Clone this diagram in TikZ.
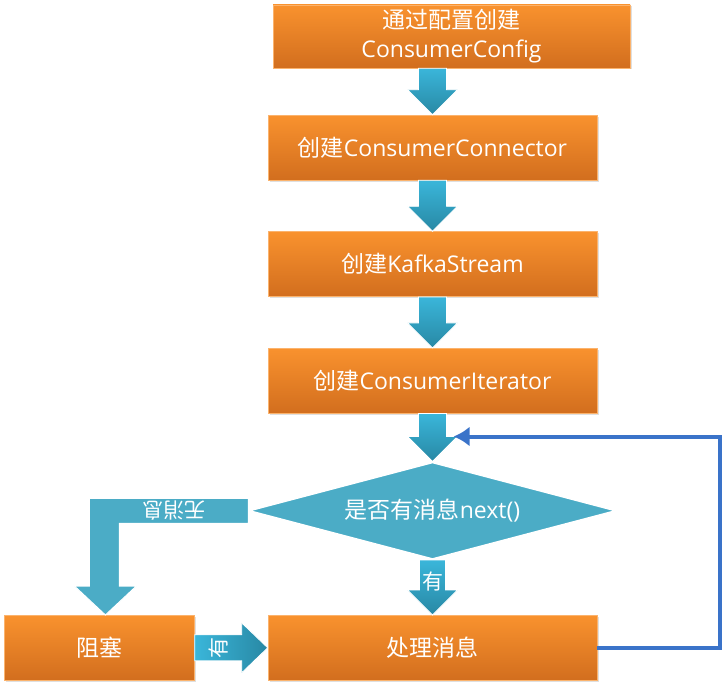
\documentclass[tikz,border=0pt]{standalone}
\usepackage{fontspec}
\setmainfont{Open Sans}
\newfontfamily\cjk{Noto Sans CJK SC}
\usetikzlibrary{arrows.meta,positioning,shapes.geometric,calc,shadows}

\definecolor{boxtop}{HTML}{F9922E}
\definecolor{boxbot}{HTML}{D26E1E}
\definecolor{flowtop}{HTML}{3AB6DA}
\definecolor{flowbot}{HTML}{2888A4}
\definecolor{aqua}{HTML}{4BACC6}
\definecolor{loopblue}{HTML}{3A73C9}

\begin{document}
\begin{tikzpicture}[x=1pt, y=1pt,
  font=\fontsize{23}{29}\selectfont,
  box/.style={rectangle, draw=boxtop!70!white, line width=0.6pt, top color=boxtop, bottom color=boxbot, text=white, align=center, minimum width=329pt, minimum height=65pt, inner sep=0pt, drop shadow={opacity=0.25, shadow xshift=1.5pt, shadow yshift=-1.5pt}},
  flowv/.style={draw=white, line width=0.8pt, top color=flowtop, bottom color=flowbot},
  flowh/.style={draw=white, line width=0.8pt, left color=flowtop, right color=flowbot},
  decision/.style={diamond, aspect=3.8, draw=white, line width=1.5pt, fill=aqua, text=white, minimum width=367pt, minimum height=97pt, inner sep=0pt},
  label/.style={text=white, inner sep=0pt, font=\cjk\fontsize{21}{21}\selectfont},
  back/.style={draw=loopblue, line width=4pt, -{Latex[length=16pt, width=20pt]}}]

\useasboundingbox (0,0) rectangle (723,-685);

\node[box, minimum width=357pt, minimum height=63pt] (cfg) at (451.5,-36.5) {{\cjk 通过配置创建}\\ConsumerConfig};
\node[box] (conn) at (432.5,-147.5) {{\cjk 创建}ConsumerConnector};
\node[box, below=51pt of conn] (stream) {{\cjk 创建}KafkaStream};
\node[box, below=51pt of stream] (iter) {{\cjk 创建}ConsumerIterator};
\node[decision, below=48pt of iter] (check) {{\cjk 是否有消息}next()};
\node[box, below=55pt of check] (proc) {\cjk 处理消息};
\node[box, minimum width=190pt, left=73pt of proc] (block) {\cjk 阻塞};

% Arrows
\foreach \up/\dn in {cfg/conn, conn/stream, stream/iter, iter/check}
  \shade[flowv] ($(\up.south -| \dn.north)+(-14,0)$) -- ($(\up.south -| \dn.north)+(14,0)$) -- ($(\dn.north)+(14,25)$) -- ($(\dn.north)+(25,25)$) -- (\dn.north) -- ($(\dn.north)+(-25,25)$) -- ($(\dn.north)+(-14,25)$) -- cycle;

\shade[flowv] ($(check.south -| proc.north)+(-13,0)$) -- ($(check.south -| proc.north)+(13,0)$) -- ($(proc.north)+(13,25)$) -- ($(proc.north)+(25,25)$) -- (proc.north) -- ($(proc.north)+(-25,25)$) -- ($(proc.north)+(-13,25)$) -- cycle;
\node[label] (yes) at ($(check.south)!0.4!(proc.north)$) {有};

\shade[flowh] ($(block.east)+(0,13)$) -- ($(proc.west)+(-26,13)$) -- ($(proc.west)+(-26,25)$) -- (proc.west) -- ($(proc.west)+(-26,-25)$) -- ($(proc.west)+(-26,-13)$) -- ($(block.east)+(0,-13)$) -- cycle;
\node[label, rotate=90] (yes2) at ($(block.east)!0.32!(proc.west)$) {有};

\path[fill=aqua, draw=white, line width=1pt] let \p1=(check.west), \p2=(block.north) in
  (\x1,\y1+12.5pt) -- (\x2-10pt,\y1+12.5pt) -- (\x2-10pt,\y2+29pt) -- (\x2-25pt,\y2+29pt) -- (\x2+6pt,\y2)
  -- (\x2+37pt,\y2+29pt) -- (\x2+20pt,\y2+29pt) -- (\x2+20pt,\y1-12.5pt) -- (\x1,\y1-12.5pt) -- cycle;
\node[label, rotate=180] (nomsg) at ($(check.west)!0.5!(block.north |- check.west)$) {无消息};

\coordinate (ret) at ($(check.north)+(21,25)$);
\draw[back] (proc.east) -- ++(123,0) |- (ret);

\end{tikzpicture}
\end{document}
